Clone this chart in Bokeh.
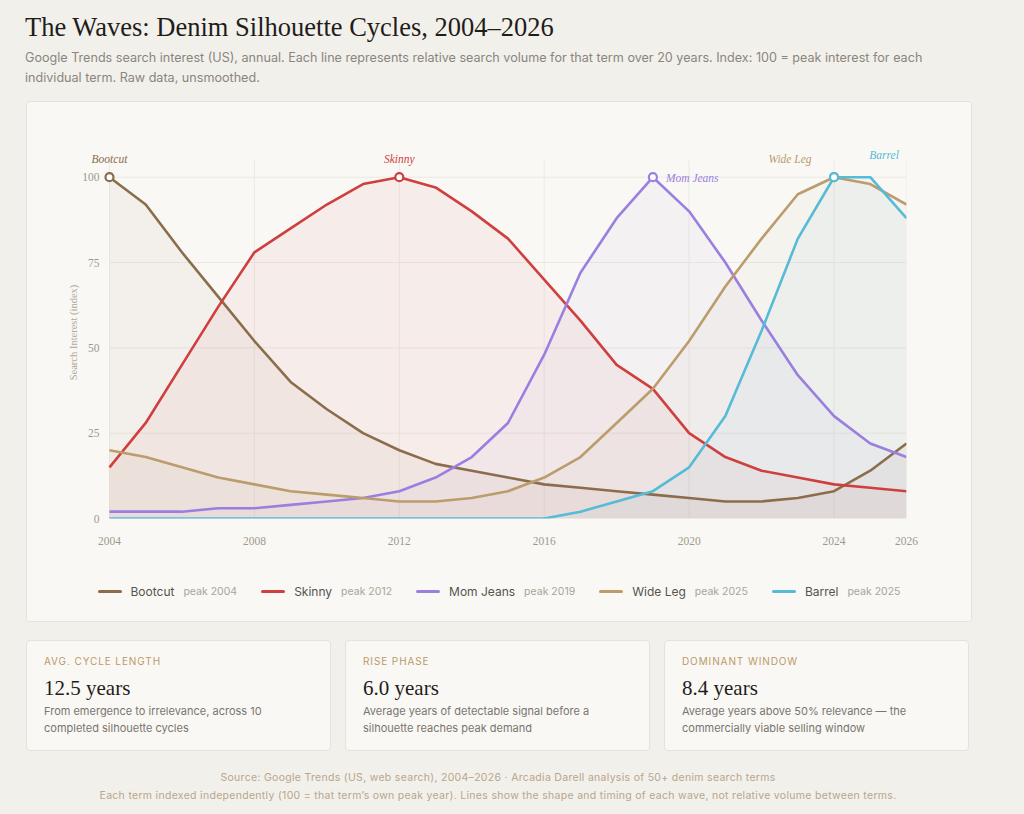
from bokeh.plotting import figure
from bokeh.models import Div, Label, FixedTicker, ColumnDataSource
from bokeh.layouts import column, row
from bokeh.embed import file_html
from bokeh.resources import INLINE

years = [2004, 2005, 2006, 2007, 2008, 2009, 2010, 2011, 2012, 2013, 2014, 2015,
         2016, 2017, 2018, 2019, 2020, 2021, 2022, 2023, 2024, 2025, 2026]

bootcut = [100, 92, 78, 65, 52, 40, 32, 25, 20, 16, 14, 12, 10, 9, 8, 7, 6, 5, 5, 6, 8, 14, 22]
skinny = [15, 28, 45, 62, 78, 85, 92, 98, 100, 97, 90, 82, 70, 58, 45, 38, 25, 18, 14, 12, 10, 9, 8]
mom_jeans = [2, 2, 2, 3, 3, 4, 5, 6, 8, 12, 18, 28, 48, 72, 88, 100, 90, 75, 58, 42, 30, 22, 18]
wide_leg = [20, 18, 15, 12, 10, 8, 7, 6, 5, 5, 6, 8, 12, 18, 28, 38, 52, 68, 82, 95, 100, 98, 92]
barrel = [0, 0, 0, 0, 0, 0, 0, 0, 0, 0, 0, 0, 0, 2, 5, 8, 15, 30, 55, 82, 100, 100, 88]

series_names = ["Bootcut", "Skinny", "Mom Jeans", "Wide Leg", "Barrel"]
series_values = [bootcut, skinny, mom_jeans, wide_leg, barrel]
series_colors = ["#8b6d4c", "#cf3f3f", "#9b7fe0", "#bb9c6c", "#55bbd6"]
legend_peaks = ["peak 2004", "peak 2012", "peak 2019", "peak 2025", "peak 2025"]

x_ticks = [2004, 2008, 2012, 2016, 2020, 2024, 2026]
y_ticks = [0, 25, 50, 75, 100]

title_text = "The Waves: Denim Silhouette Cycles, 2004\u20132026"
subtitle_text = ("Google Trends search interest (US), annual. Each line represents relative search volume "
                 "for that term over 20 years. Index: 100 = peak interest for each individual term. "
                 "Raw data, unsmoothed.")

stat_labels = ["AVG. CYCLE LENGTH", "RISE PHASE", "DOMINANT WINDOW"]
stat_values = ["12.5 years", "6.0 years", "8.4 years"]
stat_descs = ["From emergence to irrelevance, across 10 completed silhouette cycles",
              "Average years of detectable signal before a silhouette reaches peak demand",
              "Average years above 50% relevance \u2014 the commercially viable selling window"]

footer_1 = ("Source: Google Trends (US, web search), 2004\u20132026 \u00b7 Arcadia Darell analysis "
            "of 50+ denim search terms")
footer_2 = ("Each term indexed independently (100 = that term\u2019s own peak year). Lines show the shape "
            "and timing of each wave, not relative volume between terms.")

PAGE_BG = "#f2f0eb"
CARD_BG = "#f9f8f5"
GRID = "#ede9e2"
SERIF = "Liberation Serif"
SANS = "Inter"

# ---------------- header ----------------
header = Div(
    text=(f'<div style="font-family:\'{SERIF}\';font-size:26.5px;color:#1f1d1a;line-height:30px;'
          f'white-space:nowrap">{title_text}</div>'
          f'<div style="font-family:{SANS};font-size:12.6px;color:#8a857d;line-height:20px;'
          f'margin-top:6px;width:930px">{subtitle_text}</div>'),
    width=944, height=89, margin=(4, 0, 0, 17))

# ---------------- chart ----------------
p = figure(width=944, height=460, x_range=(2003.2, 2026), y_range=(0, 109),
           output_backend="svg", toolbar_location=None,
           min_border_left=53, min_border_right=65, min_border_top=44, min_border_bottom=44,
           background_fill_color=CARD_BG, border_fill_color=CARD_BG, outline_line_color=None)
p.xgrid.visible = False
p.ygrid.visible = False

# grid lines limited to the data span
p.segment(x0=x_ticks, y0=[y_ticks[0]] * len(x_ticks), x1=x_ticks, y1=[y_ticks[-1] + 5] * len(x_ticks),
          line_color=GRID, line_width=1)
p.segment(x0=[years[0]] * len(y_ticks), y0=y_ticks, x1=[years[-1]] * len(y_ticks), y1=y_ticks,
          line_color=GRID, line_width=1)

for vals, col in zip(series_values, series_colors):
    src = ColumnDataSource(dict(x=years, y=vals, z=[0] * len(vals)))
    p.varea(x="x", y1="z", y2="y", source=src, fill_color=col, fill_alpha=0.055)

for vals, col in zip(series_values, series_colors):
    p.line(years, vals, line_color=col, line_width=2.6, line_join="round")

label_cfg = {
    "Bootcut": dict(x_offset=0, y_offset=18, text_align="center"),
    "Skinny": dict(x_offset=0, y_offset=18, text_align="center"),
    "Mom Jeans": dict(x_offset=13, y_offset=-1, text_align="left"),
    "Wide Leg": dict(x_offset=-44, y_offset=18, text_align="center"),
    "Barrel": dict(x_offset=50, y_offset=22, text_align="center"),
}

for name, vals, col in zip(series_names, series_values, series_colors):
    i = vals.index(max(vals))
    p.scatter([years[i]], [vals[i]], size=8, fill_color="#ffffff", line_color=col, line_width=2.2)
    cfg = label_cfg[name]
    p.add_layout(Label(x=years[i], y=vals[i], text=name, text_color=col,
                       text_font=SERIF, text_font_style="italic", text_font_size="11.5px",
                       text_baseline="middle", **cfg))

p.xaxis.ticker = FixedTicker(ticks=x_ticks)
p.yaxis.ticker = FixedTicker(ticks=y_ticks)
for ax in (p.xaxis, p.yaxis):
    ax.axis_line_color = None
    ax.major_tick_line_color = None
    ax.minor_tick_line_color = None
    ax.major_label_text_font = SERIF
    ax.major_label_text_font_size = "11.5px"
    ax.major_label_text_color = "#9f988c"
p.xaxis.major_label_standoff = 12
p.yaxis.major_label_standoff = -25
p.yaxis.axis_label = "Search Interest (index)"
p.yaxis.axis_label_text_font = SERIF
p.yaxis.axis_label_text_font_style = "normal"
p.yaxis.axis_label_text_font_size = "10.5px"
p.yaxis.axis_label_text_color = "#b0a696"
p.yaxis.axis_label_standoff = 0

# ---------------- legend ----------------
items = []
for name, col, pk in zip(series_names, series_colors, legend_peaks):
    items.append(
        f'<span style="display:inline-flex;align-items:center;white-space:nowrap">'
        f'<span style="display:inline-block;width:24px;height:3px;border-radius:2px;'
        f'background:{col};margin-right:9px"></span>'
        f'<span style="font-family:{SANS};font-size:12px;color:#57534d">{name}</span>'
        f'<span style="font-family:{SANS};font-size:10.5px;color:#aaa49b;margin-left:9px">{pk}</span>'
        f'</span>')
legend_div = Div(
    text=('<div style="display:flex;justify-content:center;align-items:center;gap:24px;'
          'width:944px;height:59px">' + "".join(items) + '</div>'),
    width=944, height=59, margin=0, styles={"background-color": CARD_BG})

card = column(p, legend_div, spacing=0, margin=(0, 0, 0, 18),
              styles={"background-color": CARD_BG, "border": "1px solid #e6e2da",
                      "border-radius": "4px", "overflow": "hidden"})

# ---------------- stat cards ----------------
stat_divs = []
for lab, val, desc in zip(stat_labels, stat_values, stat_descs):
    stat_divs.append(Div(
        text=(f'<div style="padding:13px 17px 0 17px;width:270px">'
              f'<div style="font-family:{SANS};font-size:10px;letter-spacing:0.9px;color:#b99a68;'
              f'line-height:14px">{lab}</div>'
              f'<div style="font-family:\'{SERIF}\';font-size:21px;color:#1f1d1a;line-height:26px;'
              f'margin-top:7px">{val}</div>'
              f'<div style="font-family:{SANS};font-size:11px;color:#7a756e;line-height:17px;'
              f'margin-top:2px">{desc}</div></div>'),
        width=305, height=111, margin=0,
        styles={"background-color": CARD_BG, "border": "1px solid #e6e2da", "border-radius": "4px"}))
stats = row(*stat_divs, spacing=14, margin=(18, 0, 0, 18))

# ---------------- footer ----------------
footer = Div(
    text=(f'<div style="font-family:{SANS};font-size:10.5px;letter-spacing:0.3px;color:#b8a68b;'
          f'line-height:18px;text-align:center;width:944px">{footer_1}<br>{footer_2}</div>'),
    width=944, height=36, margin=(18, 0, 0, 18))

root = column(header, card, stats, footer, spacing=0, margin=(8, 0, 0, 8),
              styles={"background-color": PAGE_BG})

html = file_html(root, INLINE, title="The Waves")
html = html.replace("</head>", f"<style>html,body{{background:{PAGE_BG};}}</style></head>", 1)
open("out.html", "w").write(html)
